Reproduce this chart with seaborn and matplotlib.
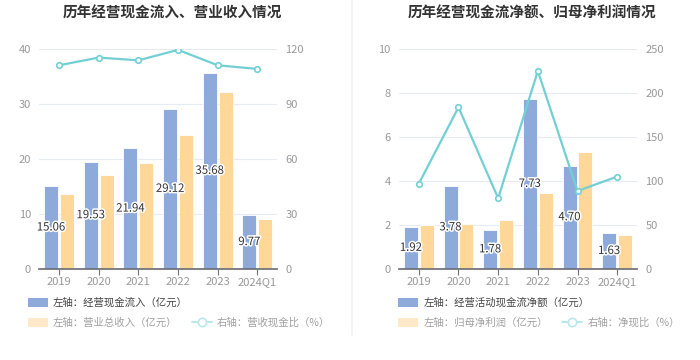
import pandas as pd
import matplotlib.pyplot as plt
import matplotlib.patheffects as pe
from matplotlib.patches import Patch
from matplotlib.lines import Line2D
import seaborn as sns

years = ["2019", "2020", "2021", "2022", "2023", "2024Q1"]

# left panel
cash_in = [15.06, 19.53, 21.94, 29.12, 35.68, 9.77]
revenue = [13.6, 17.0, 19.2, 24.4, 32.1, 9.0]
cash_rev_ratio = [111.1, 115.3, 113.8, 119.5, 111.1, 109.1]

# right panel
cash_net = [1.92, 3.78, 1.78, 7.73, 4.70, 1.63]
net_profit = [1.99, 2.06, 2.21, 3.44, 5.30, 1.55]
net_cash_ratio = [96.9, 183.7, 80.3, 225.0, 88.6, 104.9]

BLUE = "#8DAADB"
ORANGE = "#FFD899"
CYAN = "#72D0D4"

sns.set_theme(style="white")
plt.rcParams["font.family"] = ["Noto Sans CJK SC", "DejaVu Sans"]

fig = plt.figure(figsize=(7, 3.6), dpi=100)


def panel(left, bars_a, bars_b, ratio, ymax, ystep, rmax, rstep, title, names):
    ax = fig.add_axes([left, 0.253, 0.34, 0.611])
    df = pd.DataFrame({
        "year": years * 2,
        "value": bars_a + bars_b,
        "series": [names[0]] * len(years) + [names[1]] * len(years),
    })
    sns.barplot(data=df, x="year", y="value", hue="series",
                palette=[BLUE, ORANGE], saturation=1, width=0.8, gap=0.12,
                edgecolor="white", linewidth=0.6, legend=False, ax=ax)
    ax.bar_label(ax.containers[0], fmt="%.2f", label_type="center",
                 fontsize=8.2, color="#333333",
                 path_effects=[pe.withStroke(linewidth=2.2, foreground="white")])
    ax.set_ylim(0, ymax)
    ax.set_yticks(range(0, ymax + 1, ystep))
    ax.set_xlabel("")
    ax.set_ylabel("")
    ax.grid(axis="y", color="#E6EAF2", linewidth=0.8)
    ax.set_axisbelow(True)
    for s in ["left", "right", "top"]:
        ax.spines[s].set_visible(False)
    ax.spines["bottom"].set_color("#6E7079")
    ax.tick_params(axis="y", length=0, labelsize=8, labelcolor="#999999", pad=6)
    ax.tick_params(axis="x", length=4, width=0.8, color="#6E7079", bottom=True,
                   labelsize=8, labelcolor="#999999", pad=2)

    ax2 = ax.twinx()
    rdf = pd.DataFrame({"year": years, "ratio": ratio})
    sns.pointplot(data=rdf, x="year", y="ratio", color=CYAN, markers="o",
                  markersize=4, markerfacecolor="white", markeredgewidth=1.2,
                  linewidth=1.6, ax=ax2)
    ax2.set_ylim(0, rmax)
    ax2.set_yticks(range(0, rmax + 1, rstep))
    ax2.set_ylabel("")
    ax2.set_xlabel("")
    for s in ["left", "right", "top", "bottom"]:
        ax2.spines[s].set_visible(False)
    ax2.tick_params(axis="y", length=0, labelsize=8, labelcolor="#999999", pad=6)
    ax2.grid(False)
    fig.text(left + 0.17 + 0.02, 0.965, title, ha="center", va="center",
             fontsize=10.5, fontweight="bold", color="#333333")
    return ax


panel(0.056, cash_in, revenue, cash_rev_ratio, 40, 10, 120, 30,
      "历年经营现金流入、营业收入情况", ["经营现金流入", "营业总收入"])
panel(0.57, cash_net, net_profit, net_cash_ratio, 10, 2, 250, 50,
      "历年经营现金流净额、归母净利润情况", ["经营活动现金流净额", "归母净利润"])

# separator
fig.add_artist(Line2D([0.503, 0.503], [0.07, 1.0], color="#F2F2F2", linewidth=1.2))


def legends(x, first, second, third):
    kw = dict(frameon=False, loc="center left", fontsize=7.5, borderpad=0,
              borderaxespad=0, handlelength=1.9, handleheight=1.0,
              handletextpad=0.5, columnspacing=1.4)
    l1 = fig.legend(handles=[Patch(facecolor=BLUE, edgecolor="none")],
                    labels=[first], bbox_to_anchor=(x, 0.159), **kw)
    for t in l1.get_texts():
        t.set_color("#444444")
    l2 = fig.legend(handles=[Patch(facecolor="#FFE9C8", edgecolor="none"),
                             Line2D([], [], color="#B8E8EA", marker="o",
                                    markersize=6, markerfacecolor="white",
                                    markeredgewidth=1.2, linewidth=1.4)],
                    labels=[second, third], ncol=2,
                    bbox_to_anchor=(x, 0.104), **kw)
    for t in l2.get_texts():
        t.set_color("#A0A0A0")


legends(0.04, "左轴：经营现金流入（亿元）", "左轴：营业总收入（亿元）", "右轴：营收现金比（%）")
legends(0.569, "左轴：经营活动现金流净额（亿元）", "左轴：归母净利润（亿元）", "右轴：净现比（%）")

fig.savefig("out.png", dpi=100, facecolor="white")
